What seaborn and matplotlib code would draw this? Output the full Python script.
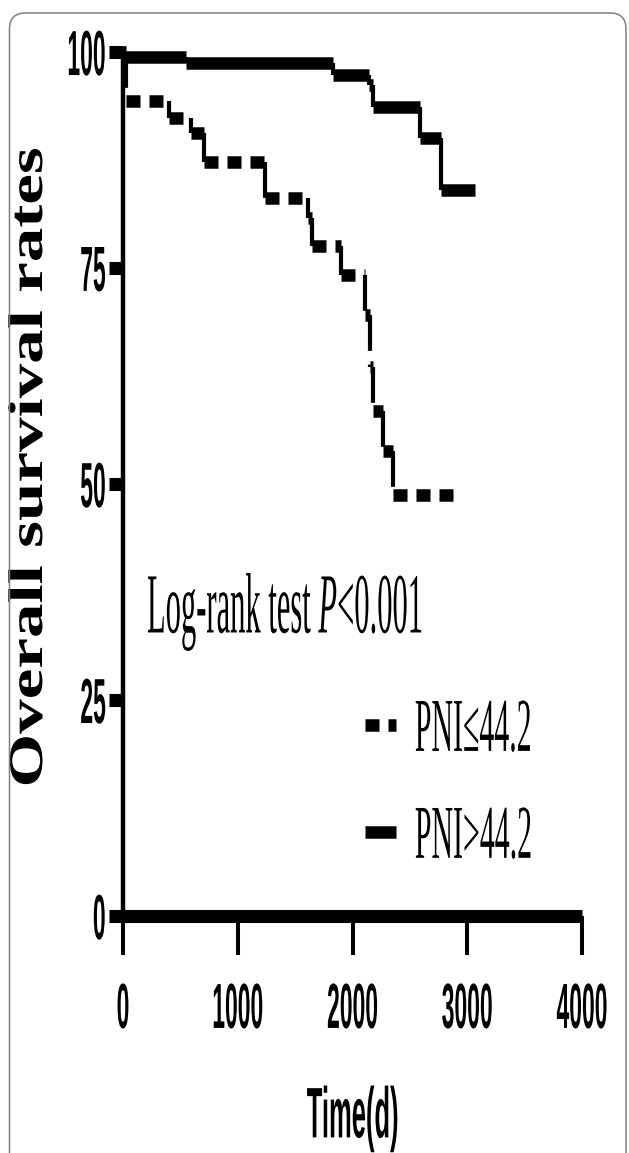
import matplotlib
matplotlib.use("Agg")
import numpy as np
import pandas as pd
import matplotlib.pyplot as plt
import seaborn as sns
from matplotlib.patheffects import AbstractPathEffect
from matplotlib.transforms import Affine2D, IdentityTransform
from matplotlib.patches import FancyBboxPatch
from matplotlib.lines import Line2D
from matplotlib.font_manager import FontProperties

# ---------------- data ----------------
high_times = [0, 15, 545, 1833, 2148, 2175, 2585, 2771]
high_surv = [100, 99.4, 98.7, 97.3, 96.2, 93.6, 90.1, 84.0]
high_end = 3068

low_times = [0, 30, 405, 590, 705, 1237, 1612, 1650, 1900, 2109, 2152, 2181, 2268, 2356]
low_surv = [100, 94.3, 92.4, 90.6, 87.3, 83.1, 80.8, 77.5, 74.2, 69.6, 63.5, 58.4, 53.8, 48.7]
low_end = 2937

x_ticks = [0, 1000, 2000, 3000, 4000]
y_ticks = [0, 25, 50, 75, 100]
series_labels = ["PNI\u226444.2", "PNI>44.2"]
annotation = "Log-rank test $P$<0.001"
x_label = "Time(d)"
y_label = "Overall survival rates"


class Stretch(AbstractPathEffect):
    """Scale a text path about its own centre (mimics the stretched original)."""
    def __init__(self, sx=1.0, sy=1.0):
        super().__init__((0, 0))
        self._sx, self._sy = sx, sy

    def draw_path(self, renderer, gc, tpath, affine, rgbFace=None):
        ext = tpath.get_extents()
        cx, cy = (ext.x0 + ext.x1) / 2, (ext.y0 + ext.y1) / 2
        pre = Affine2D().translate(-cx, -cy).scale(self._sx, self._sy).translate(cx, cy)
        renderer.draw_path(gc, tpath, pre + affine, rgbFace)


def step_tables(times, surv, end):
    ends = list(times[1:]) + [end]
    h_rows = []
    for i, (t0, t1, s) in enumerate(zip(times, ends, surv)):
        h_rows += [(i, t0, s), (i, t1, s)]
    v_rows = []
    for i in range(1, len(times)):
        v_rows += [(i, times[i], surv[i - 1]), (i, times[i], surv[i])]
    cols = ["seg", "t", "s"]
    return pd.DataFrame(h_rows, columns=cols), pd.DataFrame(v_rows, columns=cols)


sns.set_style("ticks")
plt.rcParams["mathtext.fontset"] = "custom"
plt.rcParams["mathtext.rm"] = "Liberation Serif"
plt.rcParams["mathtext.it"] = "Liberation Serif:italic"
plt.rcParams["text.color"] = "black"
plt.rcParams["axes.labelcolor"] = "black"

W, H = 629, 1153
fig = plt.figure(figsize=(W / 100, H / 100), dpi=100)
fig.patch.set_facecolor("white")
ax = fig.add_axes([123 / W, 237 / H, 459 / W, 864 / H])
ax.set_facecolor("white")

H_LW = 9.0          # thick horizontal strokes
V_LW = 3.0          # thin vertical strokes
DOT = (1.12, 0.72)  # dotted pattern for the low-PNI curve
VDASH = (8.6, 3.3)

def draw_curve(times, surv, end, dotted):
    h_df, v_df = step_tables(times, surv, end)
    n0 = len(ax.lines)
    sns.lineplot(data=h_df, x="t", y="s", units="seg", estimator=None,
                 color="black", linewidth=H_LW, ax=ax, legend=False, sort=False)
    for ln in ax.lines[n0:]:
        ln.set_clip_on(False)
        ln.set_solid_capstyle("butt")
        ln.set_dash_capstyle("butt")
        if dotted:
            ln.set_dashes(DOT)
    n1 = len(ax.lines)
    sns.lineplot(data=v_df, x="t", y="s", units="seg", estimator=None,
                 color="black", linewidth=V_LW, ax=ax, legend=False, sort=False)
    for ln in ax.lines[n1:]:
        ln.set_clip_on(False)
        ln.set_solid_capstyle("butt")
        ln.set_dash_capstyle("butt")
        if dotted:
            ln.set_dashes(VDASH)

draw_curve(high_times, high_surv, high_end, dotted=False)
draw_curve(low_times, low_surv, low_end, dotted=True)

ax.set_xlim(0, 4000)
ax.set_ylim(0, 100)
sns.despine(ax=ax)
ax.spines["left"].set_linewidth(3.2)
ax.spines["left"].set_color("black")
ax.spines["bottom"].set_linewidth(9.4)
ax.spines["bottom"].set_color("black")
ax.spines["bottom"].set_capstyle("butt")

fp_tick = FontProperties(family="Liberation Sans", weight="bold", size=16.5)
ax.set_xticks(x_ticks)
xl = ax.set_xticklabels([str(v) for v in x_ticks], fontproperties=fp_tick)
ax.set_yticks(y_ticks)
yl = ax.set_yticklabels([str(v) for v in y_ticks], fontproperties=fp_tick)
ax.tick_params(axis="x", direction="out", length=28, width=2.9, pad=29.5, colors="black")
ax.tick_params(axis="y", direction="out", length=10, width=9.4, pad=2.5, colors="black")
for lbl in list(xl) + list(yl):
    lbl.set_path_effects([Stretch(1.0, 2.78)])

fp_xlab = FontProperties(family="Liberation Sans", weight="bold", size=18.4)
ax.set_xlabel(x_label, fontproperties=fp_xlab, va="center", color="black")
ax.xaxis.set_label_coords(0.5, (916 - 1118.5) / 864)
ax.xaxis.label.set_path_effects([Stretch(1.0, 2.8)])

fp_ylab = FontProperties(family="Liberation Serif", weight="bold", size=35)
ax.set_ylabel(y_label, fontproperties=fp_ylab, va="center", color="black")
ax.yaxis.set_label_coords((30 - 123) / 459, (916 - 467) / 864)
ax.yaxis.label.set_path_effects([Stretch(1.42, 1.0)])

fp_ann = FontProperties(family="Liberation Serif", size=22)
ann = ax.text((147 - 123) / 459, (916 - 612) / 864, annotation, transform=ax.transAxes,
              ha="left", va="center", fontproperties=fp_ann, color="black")
ann.set_path_effects([Stretch(1.0, 2.8)])

fp_leg = FontProperties(family="Liberation Serif", size=21.5)
handles = [
    Line2D([], [], color="black", linewidth=H_LW, linestyle=(0, DOT), dash_capstyle="butt"),
    Line2D([], [], color="black", linewidth=H_LW, solid_capstyle="butt"),
]
leg = ax.legend(handles, series_labels, loc="upper left",
                bbox_to_anchor=((365 - 123) / 459, (916 - 715) / 864),
                frameon=False, prop=fp_leg, handlelength=1.05, handletextpad=0.62,
                labelspacing=2.68, borderpad=0, borderaxespad=0, labelcolor="black")
for t in leg.get_texts():
    t.set_path_effects([Stretch(1.0, 2.55)])

border = FancyBboxPatch((9.5, -30), 616.5, H - 13 + 30,
                        boxstyle="round,pad=0,rounding_size=16",
                        transform=IdentityTransform(), facecolor="none",
                        edgecolor="#808080", linewidth=1.1)
fig.add_artist(border)

fig.savefig("out.png", dpi=100)
